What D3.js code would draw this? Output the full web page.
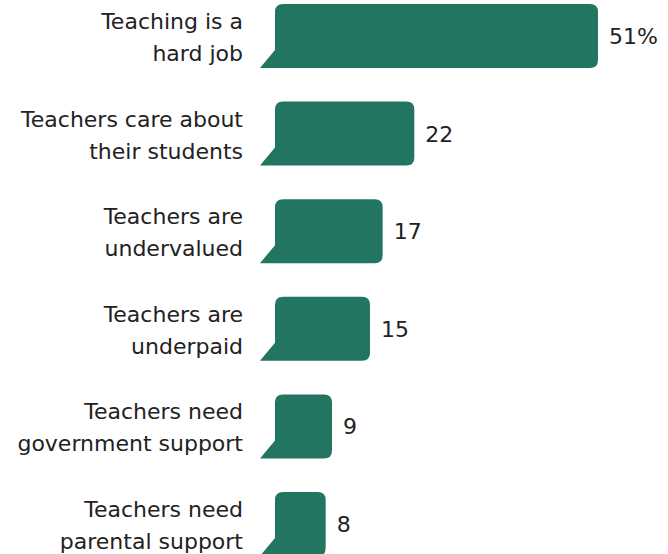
<!DOCTYPE html>
<html>
<head>
<meta charset="utf-8">
<script src="https://cdn.jsdelivr.net/npm/d3@7"></script>
<style>
  html, body { margin: 0; padding: 0; background: #fff; }
  svg { display: block; }
  text { font-family: "DejaVu Sans", "Liberation Sans", sans-serif; fill: #222; }
</style>
</head>
<body>
<script>
// Responses, one speech bubble per category
const categories = [
  ["Teaching is a", "hard job"],
  ["Teachers care about", "their students"],
  ["Teachers are", "undervalued"],
  ["Teachers are", "underpaid"],
  ["Teachers need", "government support"],
  ["Teachers need", "parental support"]
];
const values = [51, 22, 17, 15, 9, 8];
const valueLabels = ["51%", "22", "17", "15", "9", "8"];

const W = 668, H = 554;
const svg = d3.select("body").append("svg").attr("width", W).attr("height", H);

const x = d3.scaleLinear().domain([0, 51]).range([275, 598]);
const y = d3.scaleBand().domain(d3.range(values.length)).range([4, 556]).paddingInner(0.344).paddingOuter(0);

// Bubble body with rounded corners and a tail at the bottom-left
function bubble(x0, x1, y0, y1) {
  const r = 8, tw = 15, th = 18;
  const p = d3.path();
  p.moveTo(x0, y1 - th);
  p.lineTo(x0 - tw, y1);
  p.lineTo(x1 - r, y1);
  p.quadraticCurveTo(x1, y1, x1, y1 - r);
  p.lineTo(x1, y0 + r);
  p.quadraticCurveTo(x1, y0, x1 - r, y0);
  p.lineTo(x0 + r, y0);
  p.quadraticCurveTo(x0, y0, x0, y0 + r);
  p.closePath();
  return p.toString();
}

const g = svg.selectAll("g.row").data(values).join("g").attr("class", "row");

g.append("path")
  .attr("d", (d, i) => bubble(x(0), x(d), y(i), y(i) + y.bandwidth()))
  .attr("fill", "#217561");

g.append("text")
  .attr("x", d => x(d) + 11)
  .attr("y", (d, i) => y(i) + y.bandwidth() / 2)
  .attr("dy", "0.36em")
  .attr("font-size", 22)
  .text((d, i) => valueLabels[i]);

g.each(function (d, i) {
  const cy = y(i) + y.bandwidth() / 2;
  const t = d3.select(this).append("text")
    .attr("text-anchor", "end")
    .attr("font-size", 22);
  categories[i].forEach((line, k) => {
    t.append("tspan")
      .attr("x", 243)
      .attr("y", k === 0 ? cy - 7 : cy + 25)
      .text(line);
  });
});
</script>
</body>
</html>
